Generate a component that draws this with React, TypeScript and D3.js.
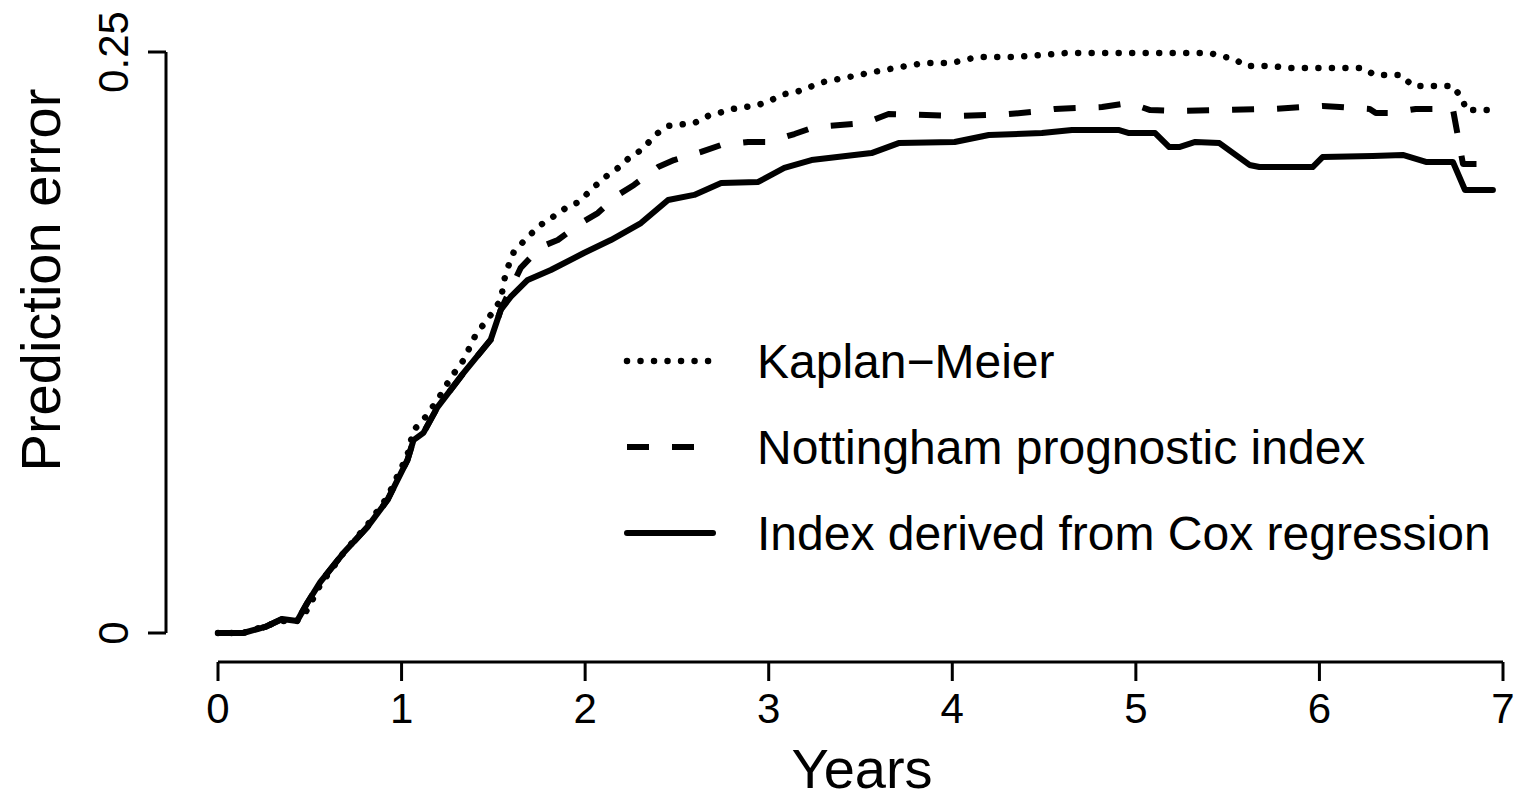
import React from "react";
import * as d3 from "d3";

// ---- data ----
const xTicks = [0, 1, 2, 3, 4, 5, 6, 7];
const yTicks = [0, 0.25];
const yTickLabels = ["0", "0.25"];

const coxTime = [0, 0.137, 0.257, 0.349, 0.431, 0.486, 0.557, 0.683, 0.814, 0.923, 1.032, 1.065, 1.119, 1.196, 1.338, 1.485, 1.54, 1.594, 1.687, 1.813, 1.993, 2.14, 2.304, 2.452, 2.594, 2.741, 2.943, 3.085, 3.233, 3.56, 3.708, 4.013, 4.199, 4.488, 4.652, 4.909, 4.963, 5.105, 5.182, 5.236, 5.324, 5.455, 5.619, 5.673, 5.963, 6.017, 6.29, 6.454, 6.58, 6.727, 6.793, 6.945];
const coxErr = [0, 0, 0.0026, 0.006, 0.0052, 0.0129, 0.0219, 0.0344, 0.0456, 0.0572, 0.0744, 0.083, 0.0861, 0.0972, 0.1119, 0.1261, 0.139, 0.1446, 0.1519, 0.1562, 0.1635, 0.1691, 0.1764, 0.1863, 0.1885, 0.1936, 0.1941, 0.2001, 0.2035, 0.2065, 0.2108, 0.2113, 0.2143, 0.2151, 0.2164, 0.2164, 0.2151, 0.2151, 0.2091, 0.2091, 0.2113, 0.2108, 0.2014, 0.2005, 0.2005, 0.2048, 0.2052, 0.2057, 0.2027, 0.2027, 0.1906, 0.1906];

const npiTime = [0, 0.137, 0.257, 0.349, 0.431, 0.486, 0.557, 0.683, 0.814, 0.923, 1.032, 1.065, 1.119, 1.196, 1.338, 1.485, 1.54, 1.578, 1.649, 1.758, 1.851, 1.977, 2.069, 2.179, 2.266, 2.397, 2.484, 2.632, 2.741, 2.888, 2.998, 3.14, 3.249, 3.522, 3.653, 4.035, 4.308, 4.434, 4.559, 4.816, 4.963, 5.078, 5.215, 5.744, 6.017, 6.274, 6.307, 6.389, 6.525, 6.727, 6.782, 6.945];
const npiErr = [0, 0, 0.0026, 0.006, 0.0052, 0.0129, 0.0219, 0.0344, 0.0456, 0.0572, 0.0744, 0.083, 0.0861, 0.0972, 0.1119, 0.1261, 0.139, 0.1454, 0.1571, 0.1661, 0.1691, 0.1764, 0.1807, 0.1885, 0.1928, 0.2005, 0.2035, 0.207, 0.21, 0.2113, 0.2113, 0.2147, 0.2177, 0.2194, 0.2233, 0.2225, 0.2233, 0.2242, 0.2255, 0.2263, 0.2281, 0.225, 0.2246, 0.2255, 0.2268, 0.2255, 0.2238, 0.2238, 0.2255, 0.2255, 0.2018, 0.2018];

const kmTime = [0, 0.137, 0.349, 0.431, 0.486, 0.557, 0.683, 0.814, 0.923, 1.032, 1.065, 1.119, 1.196, 1.267, 1.338, 1.403, 1.485, 1.54, 1.567, 1.611, 1.687, 1.758, 1.824, 1.895, 1.966, 2.031, 2.102, 2.179, 2.239, 2.315, 2.381, 2.452, 2.594, 2.67, 2.807, 2.943, 3.014, 3.085, 3.151, 3.298, 3.435, 3.571, 3.713, 3.849, 3.997, 4.133, 4.341, 4.625, 5.4, 5.46, 5.537, 5.597, 5.744, 5.815, 6.236, 6.301, 6.443, 6.509, 6.727, 6.782, 6.798, 6.945];
const kmErr = [0, 0, 0.0052, 0.0052, 0.0099, 0.0207, 0.0344, 0.0465, 0.0585, 0.0766, 0.0873, 0.0917, 0.1003, 0.1097, 0.1175, 0.1282, 0.1368, 0.1433, 0.1549, 0.1639, 0.1704, 0.1756, 0.179, 0.1829, 0.1855, 0.1906, 0.1958, 0.2001, 0.2044, 0.2083, 0.2143, 0.2182, 0.2194, 0.2225, 0.2255, 0.2272, 0.2293, 0.2319, 0.2328, 0.2371, 0.2392, 0.2414, 0.2435, 0.2453, 0.2453, 0.2478, 0.2478, 0.2496, 0.2496, 0.2483, 0.247, 0.244, 0.244, 0.2431, 0.2431, 0.2401, 0.2401, 0.2354, 0.2354, 0.2293, 0.225, 0.225];

const legendLabels = ["Kaplan\u2212Meier", "Nottingham prognostic index", "Index derived from Cox regression"];

const FONT = "'Liberation Sans', Arial, Helvetica, sans-serif";

export default function App() {
  const x = d3.scaleLinear().domain([0, 7]).range([218, 1503]);
  const y = d3.scaleLinear().domain([0, 0.25]).range([633, 52]);
  const line = d3
    .line<[number, number]>()
    .x((d) => x(d[0]))
    .y((d) => y(d[1]));

  const zip = (t: number[], v: number[]) => t.map((ti, i) => [ti, v[i]] as [number, number]);

  const series = [
    { t: kmTime, v: kmErr, dash: "0.01 13.5", cap: "round", w: 6.5 },
    { t: npiTime, v: npiErr, dash: "22 23", cap: "butt", w: 6 },
    { t: coxTime, v: coxErr, dash: "none", cap: "round", w: 6 },
  ];

  const axisY = 166;
  const axisXy = 662;
  const legendRows = [361, 447, 533];

  return (
    <svg
      width={1518}
      height={799}
      style={{ position: "absolute", left: 0, top: 0, background: "#fff" }}
      fontFamily={FONT}
    >
      <rect width={1518} height={799} fill="#fff" />
      {/* y axis */}
      <line x1={axisY} x2={axisY} y1={y(0)} y2={y(0.25)} stroke="#000" strokeWidth={3} />
      {yTicks.map((v, i) => (
        <g key={"yt" + i}>
          <line x1={148} x2={axisY} y1={y(v)} y2={y(v)} stroke="#000" strokeWidth={3} />
          <text
            transform={`translate(128,${y(v)}) rotate(-90)`}
            textAnchor="middle"
            fontSize={42}
            fill="#000"
          >
            {yTickLabels[i]}
          </text>
        </g>
      ))}
      {/* x axis */}
      <line x1={x(0)} x2={x(7)} y1={axisXy} y2={axisXy} stroke="#000" strokeWidth={3} />
      {xTicks.map((t) => (
        <g key={"xt" + t}>
          <line x1={x(t)} x2={x(t)} y1={axisXy} y2={681} stroke="#000" strokeWidth={3} />
          <text x={x(t)} y={723} textAnchor="middle" fontSize={42} fill="#000">
            {t}
          </text>
        </g>
      ))}
      <text x={862} y={788} textAnchor="middle" fontSize={56} fill="#000">
        Years
      </text>
      <text transform="translate(60,280) rotate(-90)" textAnchor="middle" fontSize={56} fill="#000">
        Prediction error
      </text>
      {/* curves */}
      {series.map((s, i) => (
        <path
          key={"s" + i}
          d={line(zip(s.t, s.v)) || ""}
          fill="none"
          stroke="#000"
          strokeWidth={s.w}
          strokeDasharray={s.dash}
          strokeLinecap={s.cap as any}
          strokeLinejoin="round"
        />
      ))}
      {/* legend */}
      {series.map((s, i) => (
        <g key={"lg" + i}>
          <line
            x1={627}
            x2={713}
            y1={legendRows[i]}
            y2={legendRows[i]}
            stroke="#000"
            strokeWidth={s.w}
            strokeDasharray={s.dash}
            strokeLinecap={s.cap as any}
          />
          <text x={757} y={legendRows[i] + 17} fontSize={48} fill="#000">
            {legendLabels[i]}
          </text>
        </g>
      ))}
    </svg>
  );
}
